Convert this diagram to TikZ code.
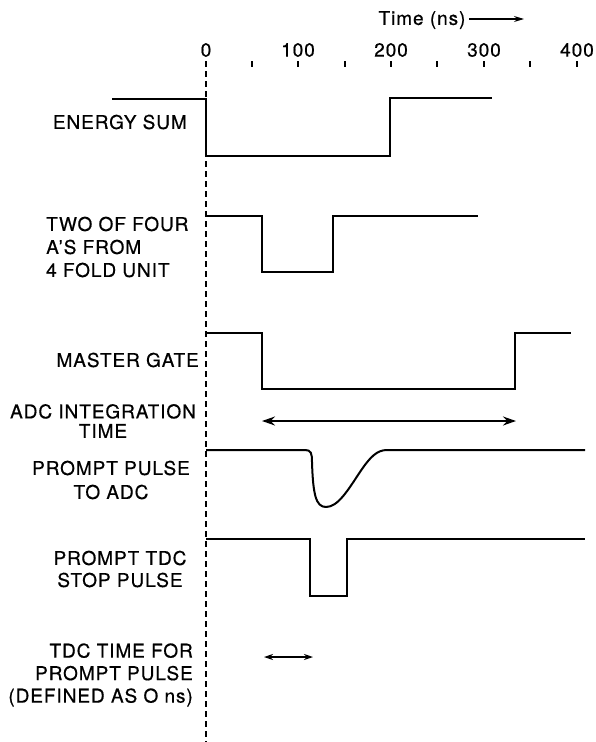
\documentclass[tikz,border=0pt]{standalone}
\usepackage{fontspec}
\setmainfont[LetterSpace=5,FakeBold=0.6]{TeX Gyre Heros}
\usetikzlibrary{arrows.meta}
\tikzset{
  sig/.style={line width=2pt, line join=miter},
  lbl/.style={inner sep=0pt, font=\fontsize{19}{22}\selectfont},
  num/.style={inner sep=0pt, font=\fontsize{19}{20}\selectfont},
  tick/.style={line width=1.6pt},
  dbl/.style={line width=1.7pt, {Stealth[length=13pt,width=9pt]}-{Stealth[length=13pt,width=9pt]}},
  sdbl/.style={line width=1.5pt, {Stealth[length=9pt,width=6pt]}-{Stealth[length=9pt,width=6pt]}},
}
\begin{document}
\begin{tikzpicture}[x=1pt,y=-1pt]
\useasboundingbox (0,0) rectangle (595,742);
% time axis
\node[num] (tlabel) at (422,20) {Time (ns)};
\coordinate (ta) at (469,19);
\coordinate (tb) at (524,19);
\draw[line width=1.3pt,-{Stealth[length=10pt,width=6pt]}] (ta) -- (tb);
\node[num] (n0) at (206,50) {0};
\node[num] (n100) at (298,50) {100};
\node[num] (n200) at (391,50) {200};
\node[num] (n300) at (484,50) {300};
\node[num] (n400) at (577,50) {400};
\foreach \x in {252,298,345,391,437,484,530,577}
  \draw[tick] (\x,61) -- (\x,67);
% dashed zero line
\draw[line width=1.4pt, dash pattern=on 6pt off 4pt] (206,61) -- (206,742);
% labels
\node[lbl, anchor=east] (es) at (187,122) {ENERGY SUM};
\node[lbl, anchor=west, align=left, font=\fontsize{19}{23}\selectfont] (two) at (46,247) {TWO OF FOUR\\A'S FROM\\4 FOLD UNIT};
\node[lbl, anchor=east] (mg) at (199,360) {MASTER GATE};
\node[lbl, align=center, font=\fontsize{19}{19.5}\selectfont] (adc) at (103,421) {ADC INTEGRATION\\TIME};
\node[lbl, align=center, font=\fontsize{19}{24}\selectfont] (pp) at (111,480) {PROMPT PULSE\\TO ADC};
\node[lbl, align=center, font=\fontsize{19}{22}\selectfont] (ptdc) at (120,569) {PROMPT TDC\\STOP PULSE};
\node[lbl, anchor=east, align=right, font=\fontsize{19}{22.5}\selectfont] (tdc) at (193,675) {TDC TIME FOR\\PROMPT PULSE\\(DEFINED AS O ns)};
% energy sum
\draw[sig] (112,99) -- (206,99) -- (206,156) -- (390,156) -- (390,98) -- (492,98);
% two of four
\draw[sig] (206,216) -- (262,216) -- (262,272) -- (333,272) -- (333,216) -- (478,216);
% master gate
\draw[sig] (206,333) -- (262,333) -- (262,389) -- (515,389) -- (515,333) -- (571,333);
% ADC integration time
\coordinate (adcA) at (262,421);
\coordinate (adcB) at (516,421);
\draw[dbl] (adcA) -- (adcB);
% prompt pulse
\draw[sig, line join=round] (206,450) -- (305,450) .. controls (311,450) and (312,453) .. (312,462)
  .. controls (313,495) and (316,507) .. (326,507)
  .. controls (338,507) and (348,490) .. (360,472)
  .. controls (370,457) and (377,450) .. (387,450) -- (585,450);
% prompt TDC stop
\draw[sig] (206,539) -- (310,539) -- (310,596) -- (347,596) -- (347,539) -- (585,539);
% TDC time arrow
\coordinate (tdcA) at (264,657);
\coordinate (tdcB) at (313,657);
\draw[sdbl] (tdcA) -- (tdcB);
\end{tikzpicture}
\end{document}
